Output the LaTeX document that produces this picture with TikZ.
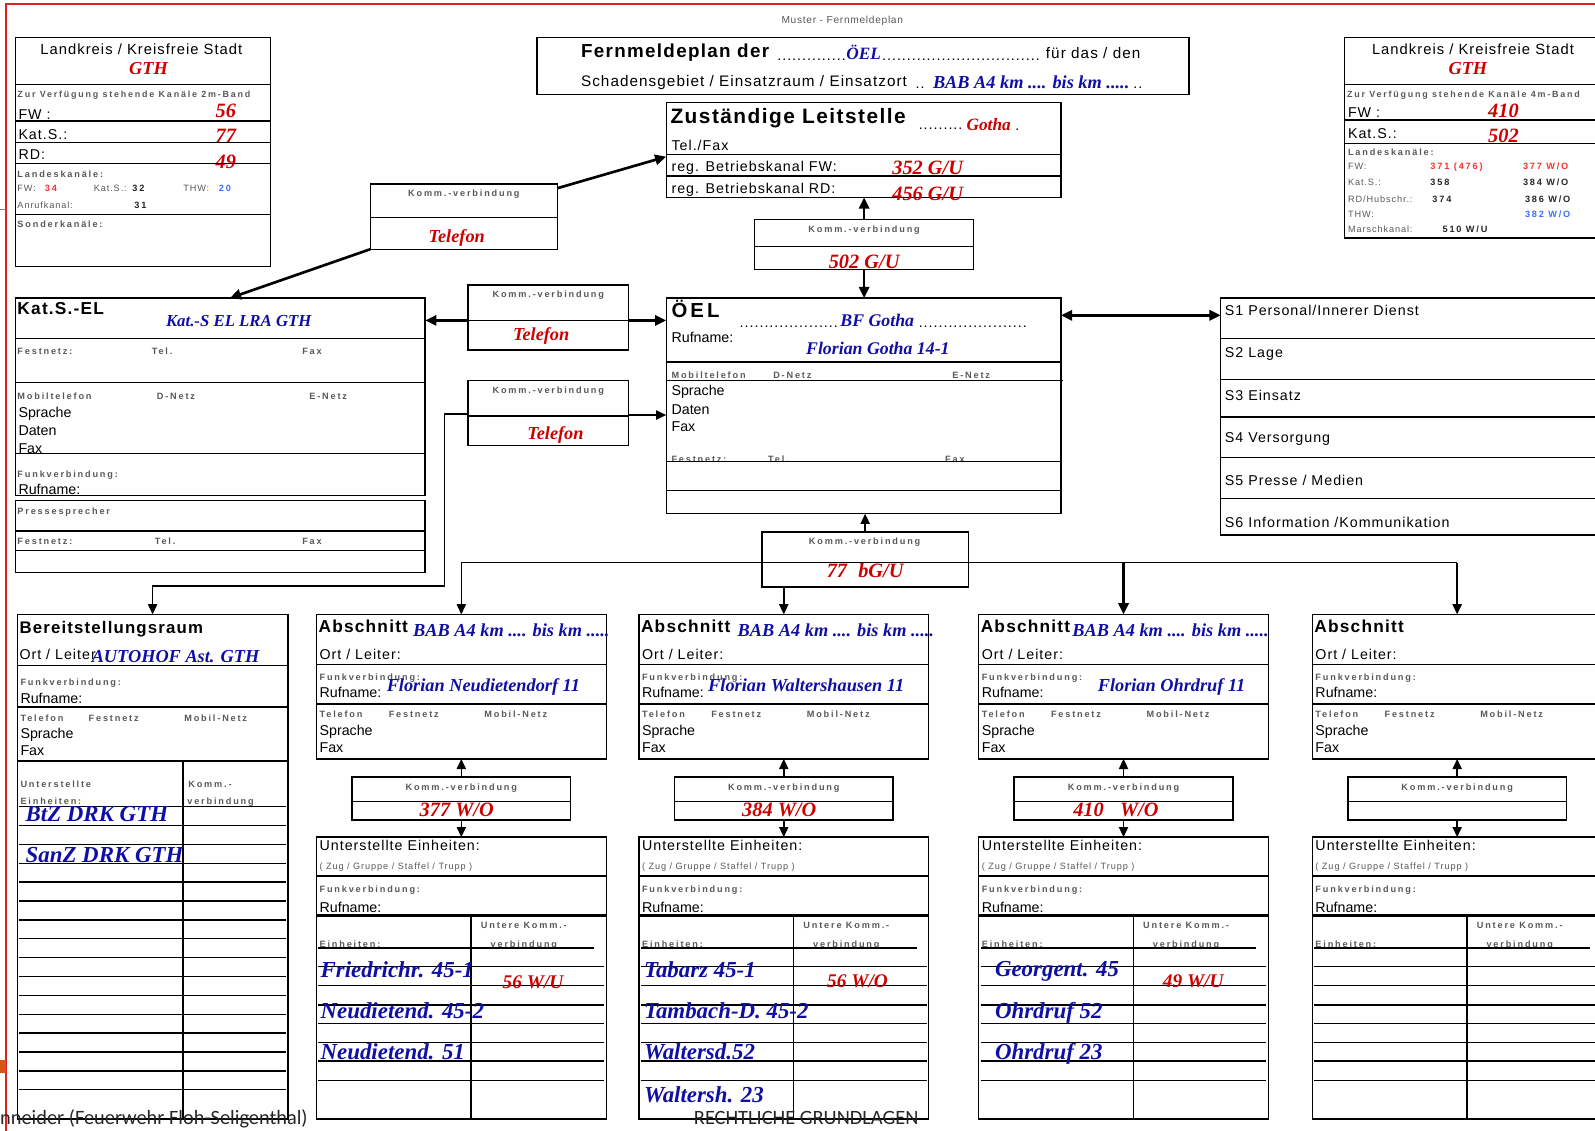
\documentclass[tikz,border=0pt]{standalone}
\usepackage{fontspec}
\setmainfont{Liberation Sans}[LetterSpace=7]
\newfontfamily\tight{Liberation Sans}
\newfontfamily\tnr{Liberation Serif}
\newfontfamily\lab{Liberation Sans}[LetterSpace=20]
\newfontfamily\labn{Liberation Sans}[LetterSpace=10]
\newfontfamily\wideb{Liberation Sans}[LetterSpace=15]
\newfontfamily\calib{Carlito}
\usetikzlibrary{arrows.meta,calc}
\definecolor{hred}{RGB}{205,0,0}
\definecolor{hblue}{RGB}{15,15,165}
\definecolor{lgray}{RGB}{88,88,88}
\definecolor{lred}{RGB}{255,45,45}
\definecolor{lblue}{RGB}{60,110,255}
\definecolor{frred}{RGB}{215,35,35}
\definecolor{orng}{RGB}{215,85,25}
\newcommand\fsz[1]{\fontsize{#1}{#1}\selectfont}
\newcommand\dotrow[1]{\foreach\i in {1,...,#1}{.}}
\tikzset{
 frm/.style={draw, line width=1.4pt, inner sep=0pt, outer sep=0pt, anchor=north west},
 ln/.style={line width=1.3pt},
 tx/.style={anchor=mid west, inner sep=0pt, yshift=-3.5pt, font=\fsz{14}},
 txc/.style={tx, anchor=mid},
 tt/.style={anchor=mid west, inner sep=0pt, yshift=-3.5pt, font=\tight\fsz{14}},
 bt/.style={anchor=mid west, inner sep=0pt, yshift=-3.5pt, font=\bfseries\fsz{17}},
 lb/.style={anchor=mid west, inner sep=0pt, yshift=-3pt, text=lgray, font=\lab\bfseries\fsz{9}},
 lbc/.style={lb, anchor=mid},
 lr/.style={anchor=mid west, inner sep=0pt, yshift=-3pt, text=lgray, font=\labn\fsz{9}},
 nb/.style={anchor=mid west, inner sep=0pt, yshift=-3pt, text=black!85, font=\lab\bfseries\fsz{9}},
 hb/.style={anchor=mid west, inner sep=0pt, yshift=-4pt, text=hblue, font=\tnr\bfseries\itshape\fsz{18}},
 hbig/.style={hb, font=\tnr\bfseries\itshape\fsz{22.5}},
 hr/.style={anchor=mid, inner sep=0pt, yshift=-4pt, text=hred, font=\tnr\bfseries\itshape\fsz{20}},
 hrs/.style={hr, font=\tnr\bfseries\itshape\fsz{18}},
 con/.style={line width=1.5pt, -{Triangle[length=10pt,width=9pt]}},
 thk/.style={line width=2.6pt, -{Triangle[length=11pt,width=10pt]}},
 dthk/.style={line width=2.6pt, {Triangle[length=11pt,width=10pt]}-{Triangle[length=11pt,width=10pt]}},
 wire/.style={line width=1.5pt},
}
\newcommand\abschnitt[2]{%
 \node[frm, minimum width=285pt, minimum height=142pt] (a#1) at (#2,604) {};
 \node[bt] (a#1t) at ({#2+2},616) {Abschnitt};
 \node[tx] (a#1o) at ({#2+3},642) {Ort / Leiter:};
 \draw[ln] (#2,653) -- ({#2+285},653);
 \node[lb] (a#1fv) at ({#2+3},663) {Funkverbindung:};
 \node[tt] (a#1r) at ({#2+3},680) {Rufname:};
 \draw[ln] (#2,692) -- ({#2+285},692);
 \node[lb] (a#1te) at ({#2+3},700) {Telefon};
 \node[lb] (a#1fe) at ({#2+71},700) {Festnetz};
 \node[lb] (a#1mo) at ({#2+165},700) {Mobil-Netz};
 \node[tt] (a#1sp) at ({#2+3},717) {Sprache};
 \node[tt] (a#1fx) at ({#2+3},734) {Fax};
 \node[frm, minimum width=215pt, minimum height=42pt] (k#1) at ({#2+35},764) {};
 \node[lbc] (k#1t) at ({#2+142.5},771) {Komm.-verbindung};
 \draw[ln] ({#2+35},788) -- ({#2+250},788);
 \node[frm, minimum width=285pt, minimum height=277pt] (u#1) at (#2,823) {};
 \node[tx] (u#1t) at ({#2+3},830) {Unterstellte Einheiten:};
 \node[lr] (u#1z) at ({#2+3},849) {( Zug / Gruppe / Staffel / Trupp )};
 \draw[ln] (#2,861) -- ({#2+285},861);
 \node[lb] (u#1fv) at ({#2+3},872) {Funkverbindung:};
 \node[tt] (u#1r) at ({#2+3},891) {Rufname:};
 \draw[line width=2pt] (#2,900) -- ({#2+285},900);
 \draw[ln] ({#2+152},900) -- ({#2+152},1100);
 \node[lbc] (u#1k) at ({#2+204},907) {Untere Komm.-};
 \node[lbc] (u#1v) at ({#2+204},926) {verbindung};
 \node[lb] (u#1e) at ({#2+3},926) {Einheiten:};
 \draw[ln] ({#2+2},932) -- ({#2+273},932);
 \foreach \yy in {950,969,988,1006,1025,1043,1062} \draw[ln] ({#2+2},\yy) -- ({#2+283},\yy);
 \draw[con] (k#1.north) -- (k#1.north |- a#1.south);
 \draw[con] (k#1.south) -- (k#1.south |- u#1.north);
}
\begin{document}
\begin{tikzpicture}[x=1pt,y=-1pt]
\useasboundingbox (0,0) rectangle (1568,1111);
\clip (0,0) rectangle (1568,1111);
% frame
\draw[frred, line width=2pt] (1600,4) -- (6,4) -- (6,1120);
\draw[gray, line width=0.8pt] (0,206) -- (6,206);
\fill[orng] (0,1042) rectangle (6,1055);
% header
\node[txc, font=\fsz{10}, text=lgray] (hdr) at (828,17) {Muster - Fernmeldeplan};
% title
\node[frm, minimum width=641pt, minimum height=56pt] (title) at (528,37) {};
\node[anchor=mid west, inner sep=0pt, yshift=-3.5pt, font=\bfseries\fsz{18.5}] (t1) at (571,50) {Fernmeldeplan der};
\node[tx] (t1a) at (764,53) {\dotrow{14}};
\node[hb, anchor=mid, font=\tnr\bfseries\itshape\fsz{17}] (t1b) at (849,52) {ÖEL};
\node[tx] (t1c) at (867,53) {\dotrow{32}};
\node[tx, font=\fsz{15}] (t1d) at (1028,51) {für das / den};
\node[tx, font=\fsz{15}] (t2) at (571,79) {Schadensgebiet / Einsatzraum / Einsatzort};
\node[tx] (t2a) at (900,81) {..};
\node[hb] (t2b) at (917,80) {BAB A4 km .... bis km .....};
\node[tx] (t2c) at (1114,81) {..};
% Leitstelle
\node[frm, minimum width=388pt, minimum height=93pt] (leit) at (655,101) {};
\node[anchor=mid west, inner sep=0pt, yshift=-3.5pt, font=\bfseries\fsz{20.5}] (lt1) at (659,115) {Zuständige Leitstelle};
\node[tx] (lt2) at (903,121) {\dotrow{9}};
\node[hb, text=hred, font=\tnr\bfseries\itshape\fsz{17}] (lt3) at (950,122) {Gotha};
\node[tx] (lt4) at (998,122) {.};
\node[tx] (lt5) at (660,142) {Tel./Fax};
\draw[ln] (655,152) -- (1043,152);
\node[tx] (lt6) at (660,162) {reg. Betriebskanal FW:};
\node[hr] (lt7) at (912,165) {352 G/U};
\draw[ln] (655,173) -- (1043,173);
\node[tx] (lt8) at (660,184) {reg. Betriebskanal RD:};
\node[hr] (lt9) at (912,190) {456 G/U};
% Komm Leitstelle
\node[frm, minimum width=215pt, minimum height=49pt] (kL) at (742,216) {};
\node[lbc] (kLt) at (849.5,223) {Komm.-verbindung};
\draw[ln] (742,242) -- (957,242);
\node[hr] (kLv) at (849.5,257) {502 G/U};
% Komm top left
\node[frm, minimum width=184pt, minimum height=64pt] (kA) at (364,181) {};
\node[lbc] (kAt) at (456,188) {Komm.-verbindung};
\draw[ln] (364,214) -- (548,214);
\node[hrs] (kAv) at (449,232) {Telefon};
% top left box
\node[frm, minimum width=251pt, minimum height=225pt] (tl) at (15,37) {};
\node[txc, font=\fsz{14.5}] (tl1) at (139,47) {Landkreis / Kreisfreie Stadt};
\node[hrs] (tl2) at (146,67) {GTH};
\draw[ln] (15,83) -- (266,83);
\node[lb, font=\lab\bfseries\fsz{8.8}] (tl3) at (17,90) {Zur Verfügung stehende Kanäle 2m-Band};
\node[tx] (tl4) at (18,111) {FW :};
\node[hr] (tl5) at (222,109) {56};
\draw[ln] (15,119) -- (266,119);
\node[tx] (tl6) at (18,131) {Kat.S.:};
\node[hr] (tl7) at (222,133) {77};
\draw[ln] (15,140) -- (266,140);
\node[tx] (tl8) at (18,151) {RD:};
\node[hr] (tl9) at (222,159) {49};
\draw[ln] (15,161) -- (266,161);
\node[lb] (tl10) at (17,169) {Landeskanäle:};
\node[lr] (tl11) at (17,183) {FW:};
\node[nb, text=lred] (tl12) at (44,183) {34};
\node[lr] (tl13) at (92,183) {Kat.S.:};
\node[nb] (tl14) at (130,183) {32};
\node[lr] (tl15) at (180,183) {THW:};
\node[nb, text=lblue] (tl16) at (215,183) {20};
\node[lr] (tl17) at (17,199) {Anrufkanal:};
\node[nb] (tl18) at (132,199) {31};
\draw[ln] (15,211) -- (266,211);
\node[lb] (tl19) at (17,218) {Sonderkanäle:};
% top right box
\node[frm, minimum width=270pt, minimum height=197pt] (tr) at (1322,37) {};
\node[txc, font=\fsz{14.5}] (tr1) at (1448,47) {Landkreis / Kreisfreie Stadt};
\node[hrs] (tr2) at (1443,67) {GTH};
\draw[ln] (1322,83) -- (1600,83);
\node[lb, font=\lab\bfseries\fsz{8.8}] (tr3) at (1324,90) {Zur Verfügung stehende Kanäle 4m-Band};
\node[tx] (tr4) at (1325,109) {FW :};
\node[hr] (tr5) at (1478,109) {410};
\draw[ln] (1322,118) -- (1600,118);
\node[tx] (tr6) at (1325,130) {Kat.S.:};
\node[hr] (tr7) at (1478,133) {502};
\draw[ln] (1322,141) -- (1600,141);
\node[lb] (tr8) at (1325,147) {Landeskanäle:};
\node[lr] (tr9) at (1325,161) {FW:};
\node[nb, text=lred] (tr10) at (1406,161) {371\enspace(476)};
\node[nb, text=lred] (tr11) at (1497,161) {377 W/O};
\node[lr] (tr12) at (1325,177) {Kat.S.:};
\node[nb] (tr13) at (1406,177) {358};
\node[nb] (tr14) at (1497,177) {384 W/O};
\node[lr] (tr15) at (1325,193) {RD/Hubschr.:};
\node[nb] (tr16) at (1408,193) {374};
\node[nb] (tr17) at (1499,193) {386 W/O};
\node[lr] (tr18) at (1325,208) {THW:};
\node[nb, text=lblue] (tr19) at (1499,208) {382 W/O};
\node[lr] (tr20) at (1325,223) {Marschkanal:};
\node[nb] (tr21) at (1418,223) {510 W/U};
% Kat.S.-EL
\node[frm, minimum width=403pt, minimum height=194pt] (katsel) at (15,293) {};
\node[anchor=mid west, inner sep=0pt, yshift=-3.5pt, font=\bfseries\fsz{17}] (ks1) at (17,303) {Kat.S.-EL};
\node[hb, font=\tnr\bfseries\itshape\fsz{16.5}] (ks2) at (163,314) {Kat.-S EL LRA GTH};
\draw[ln] (15,333) -- (418,333);
\node[lb] (ks3) at (17,343) {Festnetz:};
\node[lb] (ks4) at (149,343) {Tel.};
\node[lb] (ks5) at (297,343) {Fax};
\draw[ln] (15,376) -- (418,376);
\node[lb] (ks6) at (17,387) {Mobiltelefon};
\node[lb] (ks7) at (154,387) {D-Netz};
\node[lb] (ks8) at (304,387) {E-Netz};
\node[tt] (ks9) at (18,404) {Sprache};
\node[tt] (ks10) at (18,422) {Daten};
\node[tt] (ks11) at (18,440) {Fax};
\draw[ln] (15,446) -- (418,446);
\node[lb] (ks12) at (17,464) {Funkverbindung:};
\node[tt] (ks13) at (18,480) {Rufname:};
\node[frm, minimum width=403pt, minimum height=71pt] (presse) at (15,492) {};
\node[lb] (ps1) at (17,500) {Pressesprecher};
\draw[ln] (15,522) -- (418,522);
\node[lb] (ps2) at (17,530) {Festnetz:};
\node[lb] (ps3) at (152,530) {Tel.};
\node[lb] (ps4) at (297,530) {Fax};
\draw[ln] (15,541) -- (418,541);
% Komm Kat.S.-EL / OEL
\node[frm, minimum width=158pt, minimum height=64pt] (kK1) at (460,280) {};
\node[lbc] (kK1t) at (539,287) {Komm.-verbindung};
\draw[ln] (460,315) -- (618,315);
\node[hrs] (kK1v) at (532,328) {Telefon};
\node[frm, minimum width=158pt, minimum height=64pt] (kK2) at (460,374) {};
\node[lbc] (kK2t) at (539,381) {Komm.-verbindung};
\draw[ln] (460,409) -- (618,409);
\node[hrs] (kK2v) at (546,425) {Telefon};
% OEL
\node[frm, minimum width=388pt, minimum height=212pt] (oel) at (655,293) {};
\node[anchor=mid west, inner sep=0pt, yshift=-3.5pt, font=\wideb\bfseries\fsz{20}] (oe1) at (660,306) {ÖEL};
\node[tx] (oe2) at (727,316) {\dotrow{20}};
\node[hb, font=\tnr\bfseries\itshape\fsz{17.5}] (oe3) at (826,314) {BF Gotha};
\node[tx] (oe4) at (903,316) {\dotrow{22}};
\node[tt] (oe5) at (660,331) {Rufname:};
\node[hb, anchor=mid, font=\tnr\bfseries\itshape\fsz{17.5}] (oe6) at (863,342) {Florian Gotha 14-1};
\draw[ln] (655,356) -- (1043,356);
\node[lb] (oe7) at (660,366) {Mobiltelefon};
\node[lb] (oe8) at (760,366) {D-Netz};
\node[lb] (oe9) at (936,366) {E-Netz};
\draw[ln] (655,374) -- (1045,374);
\node[tt] (oe10) at (660,383) {Sprache};
\node[tt] (oe11) at (660,401) {Daten};
\node[tt] (oe12) at (660,418) {Fax};
\node[lb] (oe13) at (660,449) {Festnetz:};
\node[lb] (oe14) at (755,449) {Tel.};
\node[lb] (oe15) at (929,449) {Fax};
\draw[ln] (655,454) -- (1043,454);
\draw[ln] (655,482) -- (1043,482);
% S box
\node[frm, minimum width=400pt, minimum height=233pt] (sbox) at (1200,293) {};
\foreach \yy in {333,373,410,450,490} \draw[ln] (1200,\yy) -- (1600,\yy);
\node[tx] (s1) at (1204,304) {S1 Personal/Innerer Dienst};
\node[tx] (s2) at (1204,345) {S2 Lage};
\node[tx] (s3) at (1204,388) {S3 Einsatz};
\node[tx] (s4) at (1204,429) {S4 Versorgung};
\node[tx] (s5) at (1204,471) {S5 Presse / Medien};
\node[tx] (s6) at (1204,512) {S6 Information /Kommunikation};
% Komm OEL / Abschnitte
\node[frm, minimum width=203pt, minimum height=54pt] (kO) at (749,523) {};
\node[lbc] (kOt) at (850,530) {Komm.-verbindung};
\node[hr] (kOv) at (850.5,561) {77\hspace{11pt}bG/U};
% Bereitstellungsraum
\node[frm, minimum width=266pt, minimum height=496pt] (bsr) at (17,604) {};
\node[bt, font=\bfseries\fsz{16.5}] (b1) at (19,617) {Bereitstellungsraum};
\node[tx] (b2) at (19,642) {Ort / Leiter};
\node[hb] (b3) at (90,645) {AUTOHOF Ast. GTH};
\draw[ln] (17,654) -- (283,654);
\node[lb] (b4) at (20,668) {Funkverbindung:};
\node[tt] (b5) at (20,685) {Rufname:};
\draw[ln] (17,695) -- (283,695);
\node[lb] (b6) at (20,704) {Telefon};
\node[lb] (b7) at (87,704) {Festnetz};
\node[lb] (b8) at (181,704) {Mobil-Netz};
\node[tt] (b9) at (20,720) {Sprache};
\node[tt] (b10) at (20,737) {Fax};
\draw[ln] (17,748) -- (283,748);
\draw[ln] (180,748) -- (180,1100);
\node[lb] (b11) at (20,769) {Unterstellte};
\node[lb] (b12) at (20,785) {Einheiten:};
\node[lb] (b13) at (185,769) {Komm.-};
\node[lb] (b14) at (184,785) {verbindung};
\foreach \k in {0,...,15} \draw[ln] (19,{793+\k*18.55}) -- (281,{793+\k*18.55});
\node[hbig] (b15) at (25,801) {BtZ DRK GTH};
\node[hbig] (b16) at (25,841) {SanZ DRK GTH};
% Abschnitte
\abschnitt{1}{311}
\abschnitt{2}{628}
\abschnitt{3}{962}
\abschnitt{4}{1290}
\node[hb] (a1b) at (406,619) {BAB A4 km .... bis km .....};
\node[hb] (a1f) at (380,673) {Florian Neudietendorf 11};
\node[hr] (k1v) at (449,796) {377 W/O};
\node[hbig] (u1a) at (315,954) {Friedrichr. 45-1};
\node[hr, font=\tnr\bfseries\itshape\fsz{19}] (u1b) at (524,965) {56 W/U};
\node[hbig] (u1c) at (315,995) {Neudietend. 45-2};
\node[hbig] (u1d) at (315,1035) {Neudietend. 51};
\node[hb] (a2b) at (725,619) {BAB A4 km .... bis km .....};
\node[hb] (a2f) at (696,673) {Florian Waltershausen 11};
\node[hr] (k2v) at (766,796) {384 W/O};
\node[hbig] (u2a) at (633,954) {Tabarz 45-1};
\node[hr, font=\tnr\bfseries\itshape\fsz{19}] (u2b) at (843,964) {56 W/O};
\node[hbig] (u2c) at (633,995) {Tambach-D. 45-2};
\node[hbig] (u2d) at (633,1035) {Waltersd.52};
\node[hbig] (u2e) at (633,1077) {Waltersh. 23};
\node[hb] (a3b) at (1054,619) {BAB A4 km .... bis km .....};
\node[hb] (a3f) at (1079,673) {Florian Ohrdruf 11};
\node[hr] (k3v) at (1097,796) {410\hspace{16pt}W/O};
\node[hbig] (u3a) at (978,953) {Georgent. 45};
\node[hr, font=\tnr\bfseries\itshape\fsz{19}] (u3b) at (1173,964) {49 W/U};
\node[hbig] (u3c) at (978,995) {Ohrdruf 52};
\node[hbig] (u3d) at (978,1035) {Ohrdruf 23};
% connectors
\draw[thk] ($(kA.north east)+(0,4)$) -- ($(leit.north west)+(0,53)$);
\draw[thk] (kA.south west) -- ($(katsel.north west)+(211,0)$);
\draw[thk] ($(kK1.north west)+(0,35)$) -- ($(katsel.north east)+(0,22)$);
\draw[thk] ($(kK1.north east)+(0,35)$) -- ($(oel.north west)+(0,22)$);
\draw[con] ($(kK2.north east)+(0,34)$) -- ($(oel.north west)+(0,115)$);
\draw[con] ($(kK2.north west)+(0,33)$) -- ++(-23,0) -- ++(0,169) -| (bsr.north);
\draw[thk] (kL.north) -- (kL.north |- leit.south);
\draw[thk] (kL.south) -- (kL.south |- oel.north);
\draw[dthk] ($(oel.north east)+(0,17)$) -- ($(sbox.north west)+(0,17)$);
\draw[con] (kO.north) -- (kO.north |- oel.south);
\coordinate (bus) at (0,553);
\draw[wire] (a1.north |- bus) -- (a4.north |- bus);
\draw[con] (a1.north |- bus) -- (a1.north);
\draw[con] (a2.north |- kO.south) -- (a2.north);
\draw[thk] (a3.north |- bus) -- (a3.north);
\draw[con] (a4.north |- bus) -- (a4.north);
% footer
\node[anchor=base west, inner sep=0pt, font=\calib\fsz{20}, text=black!85] (f1) at (0,1105) {nneider (Feuerwehr Floh-Seligenthal)};
\node[anchor=base west, inner sep=0pt, font=\calib\fsz{20}, text=black!85] (f2) at (682,1105) {RECHTLICHE GRUNDLAGEN};
\end{tikzpicture}
\end{document}
